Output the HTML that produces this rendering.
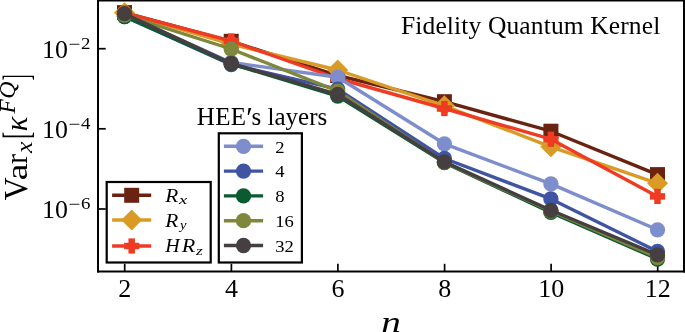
<!DOCTYPE html>
<html lang="en"><head><meta charset="utf-8"><title>Fidelity Quantum Kernel</title>
<style>
html,body{margin:0;padding:0;background:#fff;}
body{width:685px;height:332px;overflow:hidden;}
svg{display:block;}
text{font-family:"Liberation Serif","DejaVu Serif",serif;fill:#000;}
.it{font-style:italic;}
</style></head><body>
<svg width="685" height="332" viewBox="0 0 685 332">
<rect width="685" height="332" fill="#fff"/>

<g stroke="#000" stroke-width="1.7" fill="none">
<line x1="124.70" y1="271.5" x2="124.70" y2="263.8"/>
<line x1="231.40" y1="271.5" x2="231.40" y2="263.8"/>
<line x1="337.90" y1="271.5" x2="337.90" y2="263.8"/>
<line x1="444.60" y1="271.5" x2="444.60" y2="263.8"/>
<line x1="551.10" y1="271.5" x2="551.10" y2="263.8"/>
<line x1="657.70" y1="271.5" x2="657.70" y2="263.8"/>
<line x1="98" y1="48.7" x2="105.7" y2="48.7"/>
<line x1="98" y1="128.8" x2="105.7" y2="128.8"/>
<line x1="98" y1="209.0" x2="105.7" y2="209.0"/>
</g>
<g fill="none" stroke-linejoin="round" stroke-linecap="butt">
<polyline points="124.50,12.60 231.20,41.30 337.70,75.50 444.40,101.70 550.90,131.20 657.50,174.60" stroke="#6a2311" stroke-width="3.4"/>
<g stroke="none"><rect x="117.00" y="5.10" width="15.00" height="15.00" fill="#6a2311"/><rect x="223.70" y="33.80" width="15.00" height="15.00" fill="#6a2311"/><rect x="330.20" y="68.00" width="15.00" height="15.00" fill="#6a2311"/><rect x="436.90" y="94.20" width="15.00" height="15.00" fill="#6a2311"/><rect x="543.40" y="123.70" width="15.00" height="15.00" fill="#6a2311"/><rect x="650.00" y="167.10" width="15.00" height="15.00" fill="#6a2311"/></g>
<polyline points="124.50,12.80 231.20,44.10 337.70,70.00 444.40,105.80 550.90,146.80 657.50,183.30" stroke="#d99b25" stroke-width="3.4"/>
<g stroke="none"><polygon points="124.50,2.30 135.00,12.80 124.50,23.30 114.00,12.80" fill="#d99b25"/><polygon points="231.20,33.60 241.70,44.10 231.20,54.60 220.70,44.10" fill="#d99b25"/><polygon points="337.70,59.50 348.20,70.00 337.70,80.50 327.20,70.00" fill="#d99b25"/><polygon points="444.40,95.30 454.90,105.80 444.40,116.30 433.90,105.80" fill="#d99b25"/><polygon points="550.90,136.30 561.40,146.80 550.90,157.30 540.40,146.80" fill="#d99b25"/><polygon points="657.50,172.80 668.00,183.30 657.50,193.80 647.00,183.30" fill="#d99b25"/></g>
<polyline points="124.50,13.00 231.20,41.00 337.70,78.50 444.40,108.50 550.90,139.20 657.50,196.40" stroke="#ef3b23" stroke-width="3.4"/>
<g stroke="none"><rect x="116.90" y="9.75" width="15.20" height="6.50" fill="#ef3b23"/><rect x="121.25" y="5.40" width="6.50" height="15.20" fill="#ef3b23"/><rect x="223.60" y="37.75" width="15.20" height="6.50" fill="#ef3b23"/><rect x="227.95" y="33.40" width="6.50" height="15.20" fill="#ef3b23"/><rect x="330.10" y="75.25" width="15.20" height="6.50" fill="#ef3b23"/><rect x="334.45" y="70.90" width="6.50" height="15.20" fill="#ef3b23"/><rect x="436.80" y="105.25" width="15.20" height="6.50" fill="#ef3b23"/><rect x="441.15" y="100.90" width="6.50" height="15.20" fill="#ef3b23"/><rect x="543.30" y="135.95" width="15.20" height="6.50" fill="#ef3b23"/><rect x="547.65" y="131.60" width="6.50" height="15.20" fill="#ef3b23"/><rect x="649.90" y="193.15" width="15.20" height="6.50" fill="#ef3b23"/><rect x="654.25" y="188.80" width="6.50" height="15.20" fill="#ef3b23"/></g>
<polyline points="124.50,14.50 231.20,62.50 337.70,77.20 444.40,143.80 550.90,183.90 657.50,229.80" stroke="#7e8dcb" stroke-width="3.4"/>
<g stroke="none"><circle cx="124.50" cy="14.50" r="7.65" fill="#7e8dcb"/><circle cx="231.20" cy="62.50" r="7.65" fill="#7e8dcb"/><circle cx="337.70" cy="77.20" r="7.65" fill="#7e8dcb"/><circle cx="444.40" cy="143.80" r="7.65" fill="#7e8dcb"/><circle cx="550.90" cy="183.90" r="7.65" fill="#7e8dcb"/><circle cx="657.50" cy="229.80" r="7.65" fill="#7e8dcb"/></g>
<polyline points="124.50,16.50 231.20,64.60 337.70,89.10 444.40,158.50 550.90,198.90 657.50,251.50" stroke="#3f54a3" stroke-width="3.4"/>
<g stroke="none"><circle cx="124.50" cy="16.50" r="7.65" fill="#3f54a3"/><circle cx="231.20" cy="64.60" r="7.65" fill="#3f54a3"/><circle cx="337.70" cy="89.10" r="7.65" fill="#3f54a3"/><circle cx="444.40" cy="158.50" r="7.65" fill="#3f54a3"/><circle cx="550.90" cy="198.90" r="7.65" fill="#3f54a3"/><circle cx="657.50" cy="251.50" r="7.65" fill="#3f54a3"/></g>
<polyline points="124.50,16.50 231.20,63.90 337.70,96.00 444.40,162.60 550.90,212.40 657.50,259.00" stroke="#0b5b31" stroke-width="3.4"/>
<g stroke="none"><circle cx="124.50" cy="16.50" r="7.65" fill="#0b5b31"/><circle cx="231.20" cy="63.90" r="7.65" fill="#0b5b31"/><circle cx="337.70" cy="96.00" r="7.65" fill="#0b5b31"/><circle cx="444.40" cy="162.60" r="7.65" fill="#0b5b31"/><circle cx="550.90" cy="212.40" r="7.65" fill="#0b5b31"/><circle cx="657.50" cy="259.00" r="7.65" fill="#0b5b31"/></g>
<polyline points="124.50,15.20 231.20,49.00 337.70,91.20 444.40,162.30 550.90,211.00 657.50,257.50" stroke="#7f873b" stroke-width="3.4"/>
<g stroke="none"><circle cx="124.50" cy="15.20" r="7.65" fill="#7f873b"/><circle cx="231.20" cy="49.00" r="7.65" fill="#7f873b"/><circle cx="337.70" cy="91.20" r="7.65" fill="#7f873b"/><circle cx="444.40" cy="162.30" r="7.65" fill="#7f873b"/><circle cx="550.90" cy="211.00" r="7.65" fill="#7f873b"/><circle cx="657.50" cy="257.50" r="7.65" fill="#7f873b"/></g>
<polyline points="124.50,13.70 231.20,63.40 337.70,94.30 444.40,161.90 550.90,210.30 657.50,254.90" stroke="#463f41" stroke-width="3.4"/>
<g stroke="none"><circle cx="124.50" cy="13.70" r="7.65" fill="#463f41"/><circle cx="231.20" cy="63.40" r="7.65" fill="#463f41"/><circle cx="337.70" cy="94.30" r="7.65" fill="#463f41"/><circle cx="444.40" cy="161.90" r="7.65" fill="#463f41"/><circle cx="550.90" cy="210.30" r="7.65" fill="#463f41"/><circle cx="657.50" cy="254.90" r="7.65" fill="#463f41"/></g>
</g>
<g stroke="#000" stroke-width="2" fill="none" stroke-linecap="square"><line x1="98" y1="0.4" x2="684" y2="0.4"/><line x1="98" y1="271.5" x2="684" y2="271.5"/><line x1="98" y1="0.4" x2="98" y2="271.5"/><line x1="684" y1="0.4" x2="684" y2="271.5"/></g>
<rect x="106.7" y="182.0" width="104.0" height="80.5" fill="#fff" stroke="#000" stroke-width="2.2"/>
<rect x="218.8" y="133.3" width="83.1" height="129.2" fill="#fff" stroke="#000" stroke-width="2.2"/>
<line x1="112.1" y1="195.3" x2="151.2" y2="195.3" stroke="#6a2311" stroke-width="3.4"/>
<rect x="124.20" y="187.80" width="15.00" height="15.00" fill="#6a2311"/>
<line x1="112.1" y1="220.0" x2="151.2" y2="220.0" stroke="#d99b25" stroke-width="3.4"/>
<polygon points="131.70,209.50 142.20,220.00 131.70,230.50 121.20,220.00" fill="#d99b25"/>
<line x1="112.1" y1="246.0" x2="151.2" y2="246.0" stroke="#ef3b23" stroke-width="3.4"/>
<rect x="124.10" y="242.75" width="15.20" height="6.50" fill="#ef3b23"/><rect x="128.45" y="238.40" width="6.50" height="15.20" fill="#ef3b23"/>
<line x1="223.9" y1="146.3" x2="263.1" y2="146.3" stroke="#7e8dcb" stroke-width="3.4"/>
<circle cx="243.50" cy="146.30" r="7.65" fill="#7e8dcb"/>
<text transform="translate(275.3,152.6) scale(1.07,1)" font-size="17.4">2</text>
<line x1="223.9" y1="171.1" x2="263.1" y2="171.1" stroke="#3f54a3" stroke-width="3.4"/>
<circle cx="243.50" cy="171.10" r="7.65" fill="#3f54a3"/>
<text transform="translate(275.3,177.4) scale(1.07,1)" font-size="17.4">4</text>
<line x1="223.9" y1="195.9" x2="263.1" y2="195.9" stroke="#0b5b31" stroke-width="3.4"/>
<circle cx="243.50" cy="195.90" r="7.65" fill="#0b5b31"/>
<text transform="translate(275.3,202.2) scale(1.07,1)" font-size="17.4">8</text>
<line x1="223.9" y1="220.7" x2="263.1" y2="220.7" stroke="#7f873b" stroke-width="3.4"/>
<circle cx="243.50" cy="220.70" r="7.65" fill="#7f873b"/>
<text transform="translate(275.3,227.0) scale(1.07,1)" font-size="17.4">16</text>
<line x1="223.9" y1="245.5" x2="263.1" y2="245.5" stroke="#463f41" stroke-width="3.4"/>
<circle cx="243.50" cy="245.50" r="7.65" fill="#463f41"/>
<text transform="translate(275.3,251.8) scale(1.07,1)" font-size="17.4">32</text>
<text class="it" transform="translate(165.24,201.70) scale(1.154,1)" font-size="18.45">R</text>
<text class="it" transform="translate(178.90,203.90) scale(1.400,1)" font-size="13.22">x</text>
<text class="it" transform="translate(165.24,226.70) scale(1.135,1)" font-size="18.75">R</text>
<text class="it" transform="translate(179.97,228.50) scale(1.143,1)" font-size="12.79">y</text>
<text class="it" transform="translate(165.22,252.20) scale(1.071,1)" font-size="18.75">H</text>
<text class="it" transform="translate(181.65,252.20) scale(1.178,1)" font-size="18.75">R</text>
<text class="it" transform="translate(196.08,254.60) scale(1.435,1)" font-size="12.15">z</text>
<text x="401.0" y="34.2" font-size="25.5" textLength="259.3" lengthAdjust="spacing">Fidelity Quantum Kernel</text>
<text x="196.7" y="124.7" font-size="25" letter-spacing="0.4">HEE</text>
<text x="246.3" y="126.9" font-size="30">′</text>
<text x="251.6" y="124.7" font-size="25">s layers</text>
<text x="124.8" y="296.9" font-size="26" text-anchor="middle">2</text>
<text x="231.5" y="296.9" font-size="26" text-anchor="middle">4</text>
<text x="338.0" y="296.9" font-size="26" text-anchor="middle">6</text>
<text x="444.7" y="296.9" font-size="26" text-anchor="middle">8</text>
<text x="551.2" y="296.9" font-size="26" text-anchor="middle">10</text>
<text x="657.8" y="296.9" font-size="26" text-anchor="middle">12</text>
<text x="42.0" y="58.1" font-size="25.9">10</text>
<text transform="translate(68.6,49.9) scale(1.18,1)" font-size="18">−</text>
<text transform="translate(80.9,48.7) scale(1.1,1)" font-size="17.2">2</text>
<text x="42.0" y="138.2" font-size="25.9">10</text>
<text transform="translate(68.6,130.0) scale(1.18,1)" font-size="18">−</text>
<text transform="translate(80.9,128.8) scale(1.1,1)" font-size="17.2">4</text>
<text x="42.0" y="218.4" font-size="25.9">10</text>
<text transform="translate(68.6,210.2) scale(1.18,1)" font-size="18">−</text>
<text transform="translate(80.9,209.0) scale(1.1,1)" font-size="17.2">6</text>
<text class="it" transform="translate(381.28,331.80) scale(1.320,1)" font-size="29.75">n</text>
<g transform="translate(27,200.6) rotate(-90)"><text transform="translate(0.30,0.00) scale(0.925,1)" font-size="34.15">V</text><text transform="translate(20.33,0.00) scale(1.254,1)" font-size="30.17">a</text><text transform="translate(36.61,0.00) scale(0.982,1)" font-size="30.99">r</text><text class="it" transform="translate(47.52,5.00) scale(1.088,1)" font-size="23.88">x</text><text transform="translate(61.88,1.82) scale(0.568,1)" font-size="37.44">[</text><text class="it" transform="translate(69.45,0.00) scale(0.953,1)" font-size="31.98">κ</text><text class="it" transform="translate(87.07,-12.00) scale(1.003,1)" font-size="23.17">F</text><text class="it" transform="translate(101.78,-12.00) scale(1.039,1)" font-size="22.92">Q</text><text transform="translate(120.22,1.82) scale(0.500,1)" font-size="37.44">]</text></g>
</svg></body></html>
